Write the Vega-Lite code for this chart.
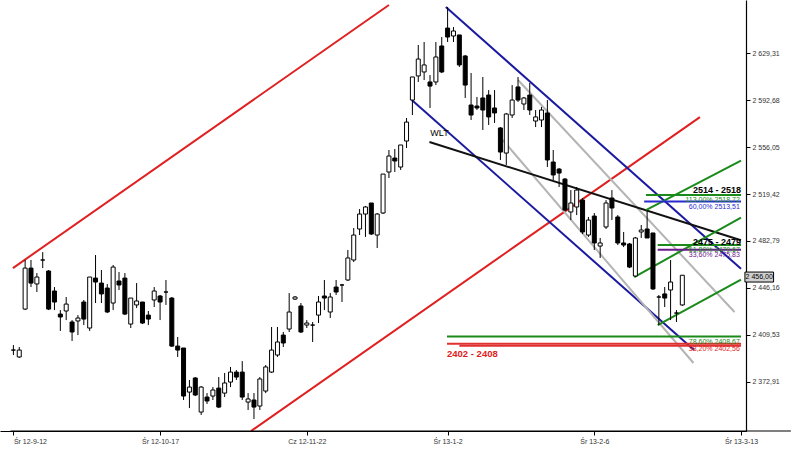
{
  "$schema": "https://vega.github.io/schema/vega-lite/v6.json",
  "width": 746,
  "height": 431,
  "autosize": {"type": "none"},
  "padding": {"left": 0, "top": 0, "right": 54, "bottom": 19},
  "background": "white",
  "config": {"view": {"stroke": null}, "font": "Liberation Sans"},
  "datasets": {
    "candles": [
      {"i":0,"o":2397.6,"c":2397.6,"h":2401.5,"l":2393.7},
      {"i":1,"o":2392.2,"c":2397.6,"h":2400.0,"l":2391.4},
      {"i":2,"o":2429.6,"c":2461.6,"h":2467.9,"l":2428.8},
      {"i":3,"o":2461.6,"c":2449.9,"h":2467.9,"l":2446.8},
      {"i":4,"o":2449.2,"c":2454.6,"h":2457.7,"l":2442.9},
      {"i":5,"o":2467.9,"c":2467.9,"h":2474.1,"l":2461.6},
      {"i":6,"o":2459.3,"c":2429.6,"h":2460.1,"l":2428.8},
      {"i":7,"o":2443.7,"c":2435.1,"h":2446.8,"l":2428.8},
      {"i":8,"o":2425.7,"c":2423.4,"h":2428.8,"l":2412.5},
      {"i":9,"o":2428.1,"c":2433.5,"h":2439.0,"l":2421.0},
      {"i":10,"o":2419.5,"c":2411.7,"h":2421.0,"l":2404.7},
      {"i":11,"o":2420.3,"c":2422.6,"h":2424.9,"l":2409.3},
      {"i":12,"o":2435.1,"c":2421.8,"h":2436.7,"l":2417.1},
      {"i":13,"o":2414.8,"c":2454.6,"h":2454.6,"l":2412.5},
      {"i":14,"o":2453.8,"c":2450.7,"h":2471.8,"l":2434.3},
      {"i":15,"o":2449.9,"c":2441.4,"h":2460.1,"l":2434.3},
      {"i":16,"o":2446.0,"c":2427.3,"h":2449.2,"l":2426.5},
      {"i":17,"o":2434.3,"c":2462.4,"h":2464.0,"l":2428.8},
      {"i":18,"o":2451.5,"c":2448.4,"h":2458.5,"l":2444.5},
      {"i":19,"o":2453.8,"c":2425.7,"h":2457.7,"l":2424.9},
      {"i":20,"o":2417.9,"c":2438.2,"h":2438.2,"l":2414.8},
      {"i":21,"o":2432.8,"c":2435.9,"h":2449.9,"l":2430.4},
      {"i":22,"o":2435.1,"c":2418.7,"h":2435.1,"l":2417.9},
      {"i":23,"o":2424.9,"c":2421.8,"h":2428.1,"l":2417.1},
      {"i":24,"o":2436.7,"c":2443.7,"h":2446.8,"l":2431.2},
      {"i":25,"o":2439.8,"c":2435.1,"h":2440.6,"l":2421.0},
      {"i":26,"o":2442.9,"c":2442.9,"h":2452.3,"l":2432.8},
      {"i":27,"o":2438.2,"c":2400.7,"h":2439.0,"l":2400.0},
      {"i":28,"o":2400.7,"c":2397.6,"h":2407.8,"l":2392.2},
      {"i":29,"o":2399.2,"c":2361.7,"h":2399.2,"l":2358.6},
      {"i":30,"o":2364.8,"c":2368.7,"h":2374.2,"l":2352.3},
      {"i":31,"o":2375.8,"c":2362.5,"h":2376.5,"l":2361.7},
      {"i":32,"o":2349.2,"c":2368.7,"h":2369.5,"l":2346.9},
      {"i":33,"o":2360.9,"c":2357.8,"h":2364.0,"l":2355.5},
      {"i":34,"o":2361.7,"c":2366.4,"h":2368.7,"l":2358.6},
      {"i":35,"o":2367.9,"c":2353.1,"h":2376.5,"l":2352.3},
      {"i":36,"o":2364.0,"c":2371.9,"h":2379.7,"l":2360.9},
      {"i":37,"o":2372.6,"c":2380.4,"h":2384.4,"l":2368.7},
      {"i":38,"o":2380.4,"c":2376.5,"h":2382.0,"l":2374.2},
      {"i":39,"o":2380.4,"c":2360.9,"h":2389.0,"l":2358.6},
      {"i":40,"o":2357.0,"c":2359.4,"h":2364.0,"l":2350.8},
      {"i":41,"o":2358.6,"c":2353.1,"h":2364.0,"l":2343.7},
      {"i":42,"o":2353.9,"c":2375.0,"h":2376.5,"l":2350.8},
      {"i":43,"o":2365.6,"c":2384.4,"h":2385.9,"l":2364.0},
      {"i":44,"o":2380.4,"c":2397.6,"h":2415.6,"l":2379.7},
      {"i":45,"o":2393.7,"c":2403.9,"h":2415.6,"l":2392.2},
      {"i":46,"o":2409.3,"c":2403.1,"h":2411.7,"l":2400.0},
      {"i":47,"o":2414.0,"c":2427.3,"h":2442.1,"l":2411.7},
      {"i":48,"o":2437.4,"c":2439.0,"h":2439.8,"l":2436.7},
      {"i":49,"o":2432.0,"c":2411.7,"h":2434.3,"l":2410.9},
      {"i":50,"o":2417.1,"c":2418.7,"h":2421.0,"l":2414.8},
      {"i":51,"o":2417.1,"c":2417.1,"h":2419.5,"l":2403.9},
      {"i":52,"o":2424.9,"c":2435.1,"h":2439.8,"l":2418.7},
      {"i":53,"o":2439.8,"c":2438.2,"h":2452.3,"l":2428.8},
      {"i":54,"o":2427.3,"c":2439.0,"h":2442.1,"l":2422.6},
      {"i":55,"o":2446.8,"c":2442.9,"h":2452.3,"l":2440.6},
      {"i":56,"o":2448.4,"c":2448.4,"h":2449.2,"l":2435.1},
      {"i":57,"o":2452.3,"c":2469.5,"h":2475.7,"l":2451.5},
      {"i":58,"o":2467.9,"c":2487.4,"h":2492.9,"l":2466.3},
      {"i":59,"o":2492.1,"c":2503.8,"h":2507.7,"l":2487.4},
      {"i":60,"o":2503.8,"c":2509.3,"h":2510.1,"l":2485.9},
      {"i":61,"o":2512.4,"c":2488.2,"h":2512.4,"l":2487.4},
      {"i":62,"o":2487.4,"c":2503.8,"h":2504.6,"l":2477.3},
      {"i":63,"o":2504.6,"c":2535.0,"h":2535.0,"l":2503.8},
      {"i":64,"o":2536.6,"c":2549.1,"h":2553.8,"l":2531.9},
      {"i":65,"o":2547.5,"c":2545.2,"h":2554.6,"l":2536.6},
      {"i":66,"o":2540.5,"c":2557.7,"h":2557.7,"l":2538.2},
      {"i":67,"o":2560.8,"c":2575.6,"h":2578.8,"l":2555.3},
      {"i":68,"o":2592.8,"c":2610.8,"h":2610.8,"l":2581.1},
      {"i":69,"o":2611.6,"c":2624.8,"h":2635.8,"l":2606.9},
      {"i":70,"o":2614.7,"c":2620.2,"h":2638.1,"l":2608.4},
      {"i":71,"o":2606.9,"c":2603.7,"h":2612.3,"l":2586.6},
      {"i":72,"o":2606.9,"c":2626.4,"h":2638.1,"l":2604.5},
      {"i":73,"o":2635.0,"c":2614.7,"h":2642.0,"l":2613.9},
      {"i":74,"o":2649.0,"c":2642.0,"h":2665.4,"l":2638.1},
      {"i":75,"o":2642.8,"c":2646.7,"h":2649.8,"l":2638.1},
      {"i":76,"o":2643.6,"c":2620.2,"h":2643.6,"l":2618.6},
      {"i":77,"o":2627.2,"c":2604.5,"h":2628.0,"l":2594.4},
      {"i":78,"o":2588.9,"c":2581.1,"h":2613.9,"l":2577.2},
      {"i":79,"o":2588.1,"c":2586.6,"h":2595.2,"l":2585.0},
      {"i":80,"o":2594.4,"c":2585.0,"h":2610.8,"l":2569.4},
      {"i":81,"o":2596.7,"c":2579.6,"h":2600.6,"l":2573.3},
      {"i":82,"o":2586.6,"c":2582.7,"h":2600.6,"l":2574.9},
      {"i":83,"o":2571.0,"c":2552.2,"h":2571.7,"l":2546.0},
      {"i":84,"o":2551.4,"c":2581.9,"h":2582.7,"l":2542.1},
      {"i":85,"o":2581.1,"c":2592.8,"h":2604.5,"l":2578.8},
      {"i":86,"o":2603.0,"c":2592.8,"h":2610.8,"l":2591.3},
      {"i":87,"o":2589.7,"c":2594.4,"h":2595.2,"l":2585.0},
      {"i":88,"o":2596.7,"c":2585.0,"h":2606.1,"l":2581.1},
      {"i":89,"o":2576.4,"c":2579.6,"h":2585.0,"l":2571.7},
      {"i":90,"o":2577.2,"c":2585.0,"h":2587.4,"l":2571.7},
      {"i":91,"o":2582.7,"c":2546.0,"h":2592.8,"l":2540.5},
      {"i":92,"o":2544.4,"c":2534.3,"h":2553.8,"l":2530.4},
      {"i":93,"o":2538.9,"c":2535.8,"h":2539.7,"l":2524.9},
      {"i":94,"o":2531.1,"c":2506.9,"h":2531.9,"l":2506.2},
      {"i":95,"o":2505.4,"c":2512.4,"h":2522.5,"l":2499.1},
      {"i":96,"o":2509.3,"c":2522.5,"h":2524.9,"l":2503.0},
      {"i":97,"o":2514.7,"c":2489.8,"h":2516.3,"l":2488.2},
      {"i":98,"o":2487.4,"c":2499.1,"h":2501.5,"l":2485.9},
      {"i":99,"o":2502.2,"c":2481.2,"h":2504.6,"l":2475.7},
      {"i":100,"o":2478.8,"c":2481.2,"h":2485.1,"l":2469.5},
      {"i":101,"o":2493.7,"c":2512.4,"h":2514.7,"l":2492.1},
      {"i":102,"o":2516.3,"c":2508.5,"h":2522.5,"l":2499.1},
      {"i":103,"o":2501.5,"c":2481.2,"h":2503.0,"l":2479.6},
      {"i":104,"o":2481.2,"c":2479.6,"h":2489.8,"l":2478.0},
      {"i":105,"o":2480.4,"c":2462.4,"h":2481.2,"l":2461.6},
      {"i":106,"o":2455.4,"c":2485.1,"h":2485.9,"l":2454.6},
      {"i":107,"o":2489.8,"c":2491.3,"h":2495.2,"l":2485.1},
      {"i":108,"o":2492.1,"c":2485.1,"h":2506.9,"l":2485.1},
      {"i":109,"o":2489.0,"c":2445.3,"h":2489.0,"l":2444.5},
      {"i":110,"o":2439.0,"c":2439.0,"h":2440.6,"l":2417.1},
      {"i":111,"o":2441.4,"c":2438.2,"h":2446.8,"l":2431.2},
      {"i":112,"o":2444.5,"c":2450.7,"h":2467.9,"l":2421.0},
      {"i":113,"o":2426.5,"c":2426.5,"h":2428.8,"l":2419.5},
      {"i":114,"o":2432.8,"c":2456.0,"h":2456.2,"l":2432.0}
    ],
    "lines": [
      {"line":"red1","i":-0.08,"p":2461.6},{"line":"red1","i":64.0,"p":2667.0},
      {"line":"red2","i":40.5,"p":2334.4},{"line":"red2","i":117.0,"p":2579.5},
      {"line":"blue1","i":73.7,"p":2665.4},{"line":"blue1","i":124,"p":2461.0},
      {"line":"blue2","i":67.9,"p":2592.8},{"line":"blue2","i":116.0,"p":2397.6},
      {"line":"gray1","i":86.0,"p":2608.4},{"line":"gray1","i":122.9,"p":2427.3},
      {"line":"gray2","i":83.4,"p":2561.6},{"line":"gray2","i":115.9,"p":2387.5},
      {"line":"wlt","i":70.9,"p":2560.0},{"line":"wlt","i":124,"p":2483.3},
      {"line":"g1","i":107.8,"p":2506.9},{"line":"g1","i":124,"p":2545.5},
      {"line":"g2","i":105.8,"p":2454.6},{"line":"g2","i":124,"p":2501.0},
      {"line":"g3","i":109.8,"p":2417.1},{"line":"g3","i":124,"p":2452.6},
      {"line":"h1","i":107.8,"p":2518.72},{"line":"h1","i":124,"p":2518.72},
      {"line":"h2","i":107.5,"p":2513.51},{"line":"h2","i":124,"p":2513.51},
      {"line":"h3","i":109.8,"p":2479.67},{"line":"h3","i":124,"p":2479.67},
      {"line":"h4","i":109.8,"p":2475.83},{"line":"h4","i":124,"p":2475.83},
      {"line":"h5","i":73.9,"p":2408.2},{"line":"h5","i":124,"p":2408.2},
      {"line":"h6","i":73.9,"p":2402.56},{"line":"h6","i":124,"p":2402.56},
      {"line":"h7","i":76.0,"p":2401.0},{"line":"h7","i":124,"p":2401.0}
    ]
  },
  "resolve": {"scale": {"color": "independent"}},
  "layer": [
    {
      "data": {"name": "lines"},
      "mark": {"type": "line", "clip": true},
      "encoding": {
        "x": {"field": "i", "type": "quantitative", "scale": {"domain": [-1.43, 124], "nice": false, "zero": false}, "axis": {
          "orient": "bottom", "title": null, "grid": false,
          "values": [0, 25, 50, 74, 99, 124],
          "labelExpr": "datum.value == 0 ? 'Śr 12-9-12' : datum.value == 25 ? 'Śr 12-10-17' : datum.value == 50 ? 'Cz 12-11-22' : datum.value == 74 ? 'Śr 13-1-2' : datum.value == 99 ? 'Śr 13-2-6' : 'Śr 13-3-13'",
          "labelAlign": {"condition": {"test": "datum.value == 0", "value": "left"}, "value": "center"},
          "labelFontSize": 7, "labelColor": "#333", "labelPadding": 2,
          "tickSize": 4, "tickColor": "black", "domainColor": "black", "domainWidth": 1.2, "labelFlush": false, "labelOverlap": false, "labelBound": false
        }},
        "y": {"field": "p", "type": "quantitative", "scale": {"domain": [2334.4, 2670.9], "nice": false, "zero": false}, "axis": {
          "orient": "right", "title": null, "grid": false,
          "values": [2372.91, 2409.53, 2446.16, 2482.79, 2519.42, 2556.05, 2592.68, 2629.31],
          "labelExpr": "replace(replace(format(datum.value, ',.2f'), ',', ' '), '.', ',')",
          "labelFontSize": 7, "labelColor": "#333", "labelPadding": 2,
          "tickSize": 4, "tickColor": "black", "domainColor": "black", "domainWidth": 1.2
        }},
        "detail": {"field": "line"},
        "color": {"field": "line", "type": "nominal", "legend": null, "scale": {
          "domain": ["red1","red2","blue1","blue2","gray1","gray2","wlt","g1","g2","g3","h1","h2","h3","h4","h5","h6","h7"],
          "range": ["#e02020","#e02020","#1a1aa0","#1a1aa0","#b4b4b4","#b4b4b4","#111111","#1a8a1a","#1a8a1a","#1a8a1a","#1a8a1a","#2a2ad0","#1a8a1a","#6a1a8a","#1a8a1a","#e03030","#e03030"]
        }},
        "strokeWidth": {"field": "line", "type": "nominal", "legend": null, "scale": {
          "domain": ["red1","red2","blue1","blue2","gray1","gray2","wlt","g1","g2","g3","h1","h2","h3","h4","h5","h6","h7"],
          "range": [2,2,1.6,1.6,1,1,1.6,1.4,1.4,1.4,1.2,1.2,1.2,1.2,1.2,1.2,1.2]
        }}
      }
    },
    {
      "data": {"values": [{"i1": -0.5, "i2": 132.5, "p": 2334.4}]},
      "mark": {"type": "rule", "color": "black", "strokeWidth": 1.2, "clip": false},
      "encoding": {
        "x": {"field": "i1", "type": "quantitative"}, "x2": {"field": "i2"},
        "y": {"field": "p", "type": "quantitative"}
      }
    },
    {
      "data": {"name": "candles"},
      "mark": {"type": "rule", "color": "black", "strokeWidth": 1},
      "encoding": {
        "x": {"field": "i", "type": "quantitative"},
        "y": {"field": "l", "type": "quantitative"},
        "y2": {"field": "h"}
      }
    },
    {
      "data": {"name": "candles"},
      "mark": {"type": "bar", "width": 4, "stroke": "black", "strokeWidth": 1},
      "encoding": {
        "x": {"field": "i", "type": "quantitative"},
        "y": {"field": "o", "type": "quantitative"},
        "y2": {"field": "c"},
        "fill": {"condition": {"test": "datum.c >= datum.o", "value": "white"}, "value": "black"}
      }
    },
    {
      "data": {"values": [{"t": "WLT", "i": 71.05, "p": 2564.7}]},
      "mark": {"type": "text", "align": "left", "baseline": "alphabetic", "fontSize": 9, "color": "black"},
      "encoding": {"x": {"field": "i", "type": "quantitative"}, "y": {"field": "p", "type": "quantitative"}, "text": {"field": "t"}}
    },
    {
      "data": {"values": [{"t": "2514 - 2518", "i": 115.8, "p": 2520.2}, {"t": "2475 - 2479", "i": 115.8, "p": 2479.9}]},
      "mark": {"type": "text", "align": "left", "baseline": "alphabetic", "fontSize": 9, "fontWeight": "bold", "color": "black"},
      "encoding": {"x": {"field": "i", "type": "quantitative"}, "y": {"field": "p", "type": "quantitative"}, "text": {"field": "t"}}
    },
    {
      "data": {"values": [{"t": "2402 - 2408", "i": 73.9, "p": 2392.2}]},
      "mark": {"type": "text", "align": "left", "baseline": "alphabetic", "fontSize": 9.5, "fontWeight": "bold", "color": "#e02020"},
      "encoding": {"x": {"field": "i", "type": "quantitative"}, "y": {"field": "p", "type": "quantitative"}, "text": {"field": "t"}}
    },
    {
      "data": {"values": [
        {"t": "113,00% 2518,72", "k": "g", "i": 123.8, "p": 2517.9},
        {"t": "60,00% 2513,51", "k": "b", "i": 123.8, "p": 2512.4},
        {"t": "61,80% 2479,67", "k": "g", "i": 123.8, "p": 2478.9},
        {"t": "33,60% 2475,83", "k": "v", "i": 123.8, "p": 2475.0},
        {"t": "78,60% 2408,67", "k": "g", "i": 123.8, "p": 2407.3},
        {"t": "38,20% 2402,56", "k": "r", "i": 123.8, "p": 2401.8}
      ]},
      "mark": {"type": "text", "align": "right", "baseline": "top", "fontSize": 7},
      "encoding": {
        "x": {"field": "i", "type": "quantitative"}, "y": {"field": "p", "type": "quantitative"}, "text": {"field": "t"},
        "color": {"field": "k", "type": "nominal", "legend": null, "scale": {"domain": ["g","b","v","r"], "range": ["#1a8a1a","#2a2ad0","#6a1a8a","#e02020"]}}
      }
    },
    {
      "data": {"values": [{"i1": 124.67, "i2": 129.55, "p1": 2450.7, "p2": 2458.5}]},
      "mark": {"type": "rect", "fill": "#d0d0d0", "stroke": "black", "strokeWidth": 1, "clip": false},
      "encoding": {
        "x": {"field": "i1", "type": "quantitative"}, "x2": {"field": "i2"},
        "y": {"field": "p1", "type": "quantitative"}, "y2": {"field": "p2"}
      }
    },
    {
      "data": {"values": [{"t": "2 456,00", "i": 127.1, "p": 2454.6}]},
      "mark": {"type": "text", "align": "center", "baseline": "middle", "fontSize": 7, "color": "black", "clip": false},
      "encoding": {"x": {"field": "i", "type": "quantitative"}, "y": {"field": "p", "type": "quantitative"}, "text": {"field": "t"}}
    }
  ]
}
